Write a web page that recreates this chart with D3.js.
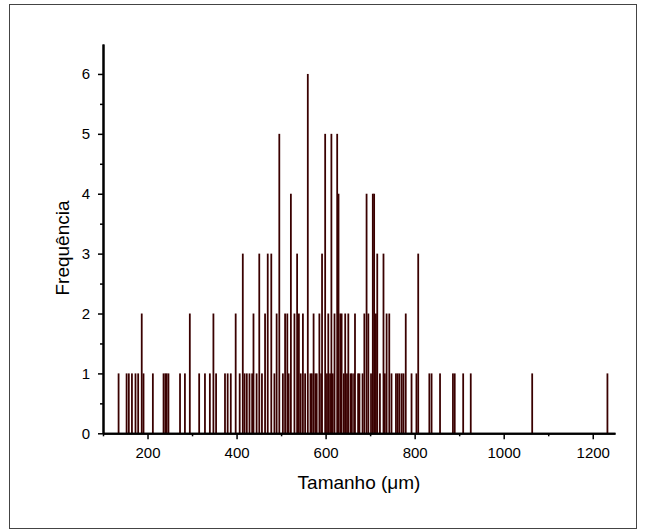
<!DOCTYPE html>
<html>
<head>
<meta charset="utf-8">
<script src="https://cdn.jsdelivr.net/npm/d3@7"></script>
<style>
  body { margin: 0; background: #fff; }
  text { font-family: Arial, "Liberation Sans", sans-serif; }
</style>
</head>
<body>
<div class="chart"></div>
<script>
// Histogram data: bin centre (µm) and count
const sizes = [135, 153, 158, 165, 173, 179, 187, 191, 212, 236, 240, 243, 247, 273, 284, 295,
  316, 329, 340, 348, 354, 374, 380, 387, 398, 407, 414, 418, 423, 429, 435, 438, 445, 451,
  457, 464, 470, 478, 485, 490, 496, 504, 509, 514, 517, 522, 530, 536, 540, 544, 549, 554,
  560, 566, 569, 573, 577, 580, 586, 590, 592, 599, 603, 606, 610, 613, 616, 620, 626, 629,
  633, 636, 641, 644, 648, 651, 656, 659, 664, 666, 673, 676, 683, 687, 692, 696, 702, 706,
  709, 713, 716, 722, 730, 733, 737, 743, 748, 758, 762, 766, 771, 775, 780, 793, 804, 808,
  833, 838, 857, 886, 890, 909, 926, 1064, 1233];
const counts = [1, 1, 1, 1, 1, 1, 2, 1, 1, 1, 1, 1, 1, 1, 1, 2,
  1, 1, 1, 2, 1, 1, 1, 1, 2, 1, 3, 1, 1, 1, 1, 2, 1, 3,
  1, 2, 3, 3, 1, 2, 5, 1, 2, 2, 1, 4, 2, 3, 2, 1, 2, 1,
  6, 1, 1, 2, 1, 1, 2, 1, 3, 5, 1, 2, 1, 5, 1, 2, 5, 4,
  2, 2, 1, 2, 1, 2, 1, 1, 1, 2, 1, 1, 1, 2, 4, 2, 1, 4,
  4, 2, 3, 1, 3, 1, 2, 2, 1, 1, 1, 1, 1, 1, 2, 1, 1, 3,
  1, 1, 1, 1, 1, 1, 1, 1, 1];
const binWidth = 4;
const xMajor = [200, 400, 600, 800, 1000, 1200];
const xMinor = [100, 300, 500, 700, 900, 1100];
const yMajor = [0, 1, 2, 3, 4, 5, 6];
const yMinor = [0.5, 1.5, 2.5, 3.5, 4.5, 5.5];

const data = sizes.map((s, i) => ({ size: s, count: counts[i] }));

const width = 646, height = 531;
const svg = d3.select('.chart').append('svg')
    .attr('width', width)
    .attr('height', height);

// Outer frame
svg.append('rect')
    .attr('x', 9.5).attr('y', 4.5)
    .attr('width', 627).attr('height', 524)
    .attr('fill', 'none')
    .attr('stroke', '#444')
    .attr('stroke-width', 1);

// Scales
const x = d3.scaleLinear().domain([100, 1250]).range([103, 615]);
const y = d3.scaleLinear().domain([0, 6.5]).range([433.3, 44]);

// Bars
const bw = x(binWidth) - x(0);
svg.append('g').selectAll('rect')
    .data(data)
    .join('rect')
    .attr('x', d => x(d.size) - bw / 2)
    .attr('y', d => y(d.count))
    .attr('width', bw)
    .attr('height', d => y(0) - y(d.count))
    .attr('fill', '#3a0000');

// X axis
const xAxis = svg.append('g').attr('transform', `translate(0,${y(0)})`);
xAxis.call(d3.axisBottom(x).tickValues(xMajor).tickFormat(d3.format('d'))
    .tickSize(6).tickPadding(8).tickSizeOuter(0));
xAxis.append('g')
    .call(d3.axisBottom(x).tickValues(xMinor).tickSize(3).tickFormat('').tickSizeOuter(0));

// Y axis
const yAxis = svg.append('g').attr('transform', `translate(${x(100)},0)`);
yAxis.call(d3.axisLeft(y).tickValues(yMajor).tickFormat(d3.format('d'))
    .tickSize(5).tickPadding(8).tickSizeOuter(0));
yAxis.append('g')
    .call(d3.axisLeft(y).tickValues(yMinor).tickSize(3).tickFormat('').tickSizeOuter(0));

svg.selectAll('.domain').attr('stroke', '#000').attr('stroke-width', 2);
svg.selectAll('.tick line').attr('stroke', '#000').attr('stroke-width', 1.5);
svg.selectAll('.tick text')
    .style('font-family', 'Arial, "Liberation Sans", sans-serif')
    .style('font-size', '15px')
    .attr('fill', '#000');

// Axis titles
svg.append('text')
    .attr('x', 359).attr('y', 489)
    .attr('text-anchor', 'middle')
    .style('font-size', '19px')
    .text('Tamanho (μm)');

svg.append('text')
    .attr('transform', 'rotate(-90)')
    .attr('x', -248).attr('y', 69)
    .attr('text-anchor', 'middle')
    .style('font-size', '19px')
    .text('Frequência');
</script>
</body>
</html>
